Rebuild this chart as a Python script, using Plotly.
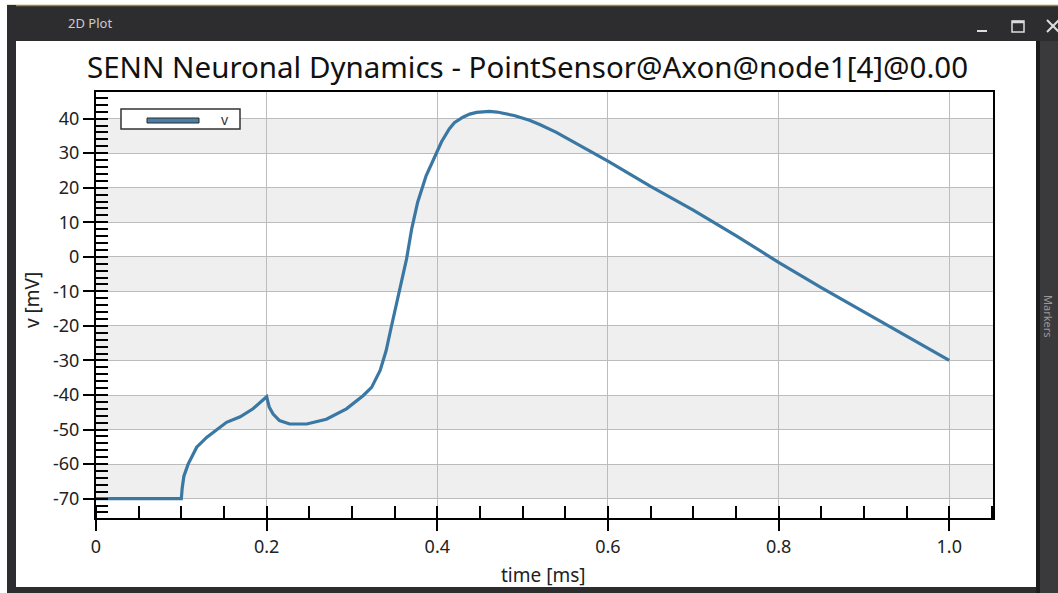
import plotly.graph_objects as go

# ---- data ----
time_ms = [0, 0.1, 0.101, 0.103, 0.108, 0.118, 0.13, 0.153, 0.169, 0.184, 0.2,
           0.203, 0.2076, 0.215, 0.227, 0.247, 0.27, 0.2935, 0.313, 0.323, 0.333,
           0.340, 0.346, 0.352, 0.358, 0.364, 0.370, 0.377, 0.387, 0.399, 0.405,
           0.414, 0.42, 0.430, 0.438, 0.446, 0.455, 0.461, 0.47, 0.477, 0.49,
           0.508, 0.52, 0.539, 0.555, 0.567, 0.58, 0.600, 0.65, 0.70, 0.75,
           0.80, 0.85, 0.90, 0.95, 1.0]
v_mV = [-70, -70, -67, -63.5, -60, -55.1, -52.2, -47.9, -46.3, -44.0, -40.5,
        -43.5, -45.5, -47.4, -48.4, -48.4, -47.0, -44.0, -40.2, -37.8, -32.9,
        -27.2, -20.4, -13.6, -6.9, -0.6, 8.1, 15.8, 23.5, 30.3, 33.3,
        37.0, 38.8, 40.4, 41.3, 41.8, 42.1, 42.1, 41.9, 41.6, 40.9,
        39.5, 38.3, 36.1, 33.9, 32.4, 30.5, 27.7, 20.4, 13.5, 6.1,
        -1.6, -8.9, -16.0, -23.1, -30.0]
x_tickvals = [0, 0.2, 0.4, 0.6, 0.8, 1.0]
x_ticktext = ["0", "0.2", "0.4", "0.6", "0.8", "1.0"]
y_tickvals = [40, 30, 20, 10, 0, -10, -20, -30, -40, -50, -60, -70]
y_ticktext = ["40", "30", "20", "10", "0", "-10", "-20", "-30", "-40", "-50", "-60", "-70"]
band_starts = [30, 10, -10, -30, -50, -70]  # shaded bands (10 units tall)
series_name = "v"
title_text = "SENN Neuronal Dynamics - PointSensor@Axon@node1[4]@0.00"

# ---- geometry (pixels) ----
W, H = 1058, 593
L, R, T, B = 96, 993, 92, 518
FONT = "Noto Sans"
LINE_COLOR = "#3a78a3"


def px(x):
    return (x - L) / (R - L)


def py(y):
    return (B - y) / (B - T)


fig = go.Figure()
fig.add_trace(go.Scatter(x=time_ms, y=v_mV, mode="lines", name=series_name,
                         line=dict(color=LINE_COLOR, width=3.2), showlegend=False,
                         hoverinfo="skip"))

shapes = []
# alternating bands
for b0 in band_starts:
    shapes.append(dict(type="rect", xref="paper", yref="y", x0=0, x1=1, y0=b0, y1=b0 + 10,
                       fillcolor="#efefef", line=dict(width=0), layer="below"))

dark = "#2d2d30"
# window frame
shapes += [
    dict(type="rect", xref="paper", yref="paper", x0=px(7), x1=px(W + 2), y0=py(5), y1=py(41),
         fillcolor=dark, line=dict(width=0), layer="below"),
    dict(type="line", xref="paper", yref="paper", x0=px(7), x1=px(W + 2), y0=py(5.5), y1=py(5.5),
         line=dict(color="#9a8a3a", width=1.5), layer="below"),
    dict(type="rect", xref="paper", yref="paper", x0=px(7), x1=px(16), y0=py(5), y1=py(H + 2),
         fillcolor=dark, line=dict(width=0), layer="below"),
    dict(type="rect", xref="paper", yref="paper", x0=px(7), x1=px(W + 2), y0=py(587), y1=py(H + 2),
         fillcolor=dark, line=dict(width=0), layer="below"),
    dict(type="rect", xref="paper", yref="paper", x0=px(1036), x1=px(W + 2), y0=py(41), y1=py(H + 2),
         fillcolor="#3a3a3c", line=dict(width=0), layer="below"),
    dict(type="rect", xref="paper", yref="paper", x0=px(1036), x1=px(1040), y0=py(41), y1=py(H + 2),
         fillcolor="#1c1c1c", line=dict(width=0), layer="below"),
    # window controls
    dict(type="line", xref="paper", yref="paper", x0=px(977), x1=px(987), y0=py(31), y1=py(31),
         line=dict(color="#dddddd", width=2), layer="below"),
    dict(type="rect", xref="paper", yref="paper", x0=px(1012), x1=px(1024), y0=py(21), y1=py(32),
         fillcolor="rgba(0,0,0,0)", line=dict(color="#dddddd", width=1.5), layer="below"),
    dict(type="line", xref="paper", yref="paper", x0=px(1012), x1=px(1024), y0=py(22), y1=py(22),
         line=dict(color="#dddddd", width=2.5), layer="below"),
    dict(type="line", xref="paper", yref="paper", x0=px(1047), x1=px(1059), y0=py(20), y1=py(32),
         line=dict(color="#dddddd", width=2), layer="below"),
    dict(type="line", xref="paper", yref="paper", x0=px(1047), x1=px(1059), y0=py(32), y1=py(20),
         line=dict(color="#dddddd", width=2), layer="below"),
    # legend box
    dict(type="rect", xref="paper", yref="paper", x0=px(121), x1=px(240), y0=py(129), y1=py(109),
         fillcolor="white", line=dict(color="#333333", width=1.5), layer="above"),
    dict(type="rect", xref="paper", yref="paper", x0=px(147), x1=px(199), y0=py(123), y1=py(118),
         fillcolor="#4a7ea6", line=dict(color="#2a2a2a", width=1), layer="above"),
]

annotations = [
    dict(text=title_text, xref="paper", yref="paper", x=px(527), y=py(67),
         xanchor="center", yanchor="middle", showarrow=False,
         font=dict(family=FONT, size=29.5, color="#111111")),
    dict(text="2D Plot", xref="paper", yref="paper", x=px(66), y=py(23),
         xanchor="left", yanchor="middle", showarrow=False,
         font=dict(family=FONT, size=13, color="#cccccc")),
    dict(text="Markers", xref="paper", yref="paper", x=px(1049), y=py(316),
         xanchor="center", yanchor="middle", showarrow=False, textangle=90,
         font=dict(family=FONT, size=11, color="#9a9a9a")),
    dict(text=series_name, xref="paper", yref="paper", x=px(225), y=py(119),
         xanchor="center", yanchor="middle", showarrow=False,
         font=dict(family=FONT, size=14, color="#333333")),
    dict(text="time [ms]", xref="paper", yref="paper", x=px(543), y=py(575),
         xanchor="center", yanchor="middle", showarrow=False,
         font=dict(family=FONT, size=19, color="#222222")),
    dict(text="v [mV]", xref="paper", yref="paper", x=px(32), y=py(300),
         xanchor="center", yanchor="middle", showarrow=False, textangle=-90,
         font=dict(family=FONT, size=19, color="#222222")),
]

fig.update_layout(
    width=W, height=H,
    margin=dict(l=L, r=W - R, t=T, b=H - B, pad=0),
    paper_bgcolor="white", plot_bgcolor="rgba(0,0,0,0)",
    shapes=shapes, annotations=annotations, showlegend=False,
    font=dict(family=FONT, size=18, color="#222222"),
    hovermode=False,
)
fig.update_xaxes(
    range=[0, 1.0513], tickmode="array", tickvals=x_tickvals, ticktext=x_ticktext,
    showgrid=True, gridcolor="#bcbcbc", gridwidth=1, zeroline=False,
    showline=True, mirror=True, linecolor="black", linewidth=2,
    ticks="outside", ticklen=11, tickwidth=1.5, tickcolor="black",
    tickfont=dict(family=FONT, size=18, color="#222222"),
    minor=dict(tickmode="linear", tick0=0, dtick=0.05, ticks="inside", ticklen=12,
               tickwidth=1.5, tickcolor="black", showgrid=False),
)
fig.update_yaxes(
    range=[-75.6, 47.7], tickmode="array", tickvals=y_tickvals, ticktext=y_ticktext,
    showgrid=True, gridcolor="#bcbcbc", gridwidth=1, zeroline=False,
    showline=True, mirror=True, linecolor="black", linewidth=2,
    ticks="outside", ticklen=11, tickwidth=1.5, tickcolor="black",
    tickfont=dict(family=FONT, size=18, color="#222222"),
    minor=dict(tickmode="linear", tick0=0, dtick=2, ticks="inside", ticklen=12,
               tickwidth=1.5, tickcolor="black", showgrid=False),
)

fig.write_html("out.html", config={"displayModeBar": False},
               post_script="document.body.style.margin='0';document.body.style.overflow='hidden';")
